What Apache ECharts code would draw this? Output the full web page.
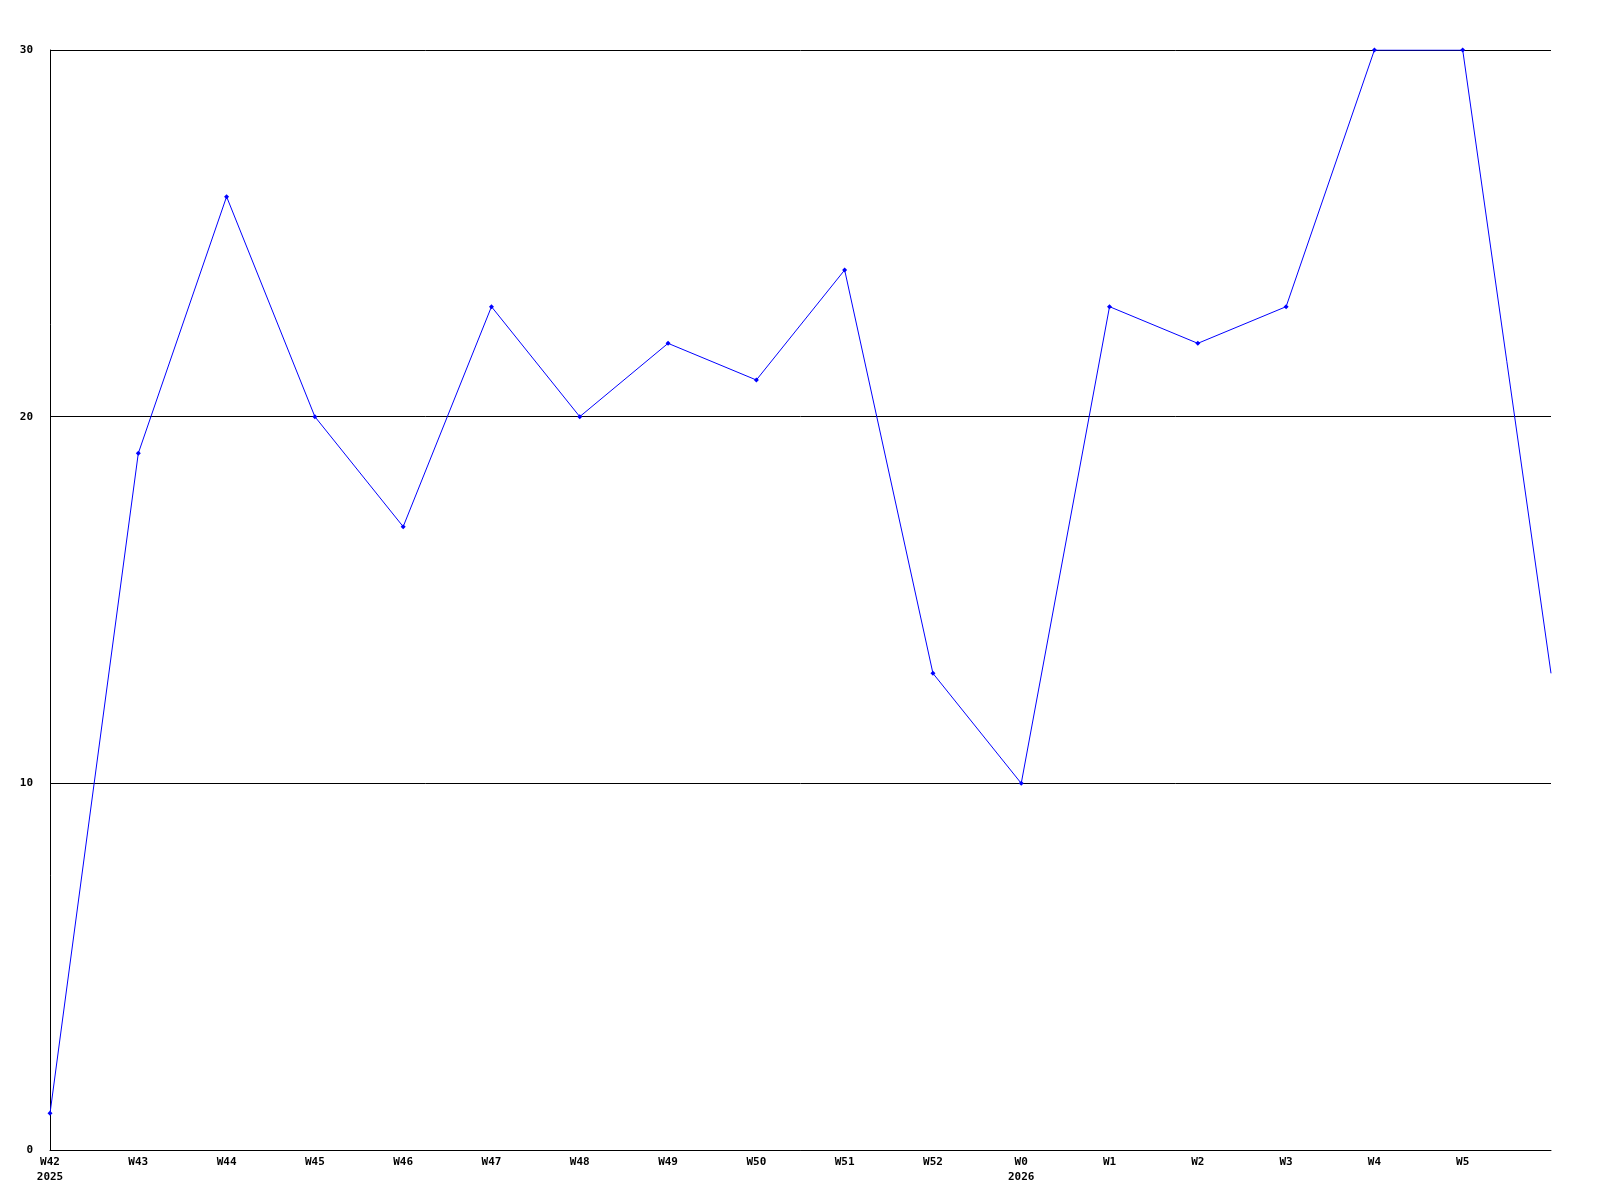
<!DOCTYPE html>
<html>
<head>
<meta charset="utf-8">
<script src="https://cdn.jsdelivr.net/npm/echarts@6/dist/echarts.min.js"></script>
<style>
html,body{margin:0;padding:0;background:#fff;}
#chart{width:1600px;height:1200px;}
</style>
</head>
<body>
<div id="chart"></div>
<script>
const categories = ['W42','W43','W44','W45','W46','W47','W48','W49','W50','W51','W52','W0','W1','W2','W3','W4','W5','W6'];
const tickLabels = ['W42\n2025','W43','W44','W45','W46','W47','W48','W49','W50','W51','W52','W0\n2026','W1','W2','W3','W4','W5',''];
const values = [1,19,26,20,17,23,20,22,21,24,13,10,23,22,23,30,30,13];
const yTicks = [0,10,20,30];

const seriesData = values.map(function(v, i){
  return i === values.length - 1 ? {value:v, symbol:'none'} : v;
});

const chart = echarts.init(document.getElementById('chart'), null, {renderer:'canvas'});
chart.setOption({
  animation:false,
  backgroundColor:'#ffffff',
  grid:{left:50, top:50, right:49, bottom:50, containLabel:false},
  xAxis:{
    type:'category',
    data:categories,
    boundaryGap:false,
    axisLine:{show:true, lineStyle:{color:'#000', width:1}},
    axisTick:{show:false},
    splitLine:{show:false},
    axisLabel:{
      interval:0,
      margin:5,
      fontFamily:'DejaVu Sans Mono',
      fontWeight:'bold',
      fontSize:11,
      lineHeight:15,
      color:'#000',
      formatter:function(v, i){ return tickLabels[i]; }
    }
  },
  yAxis:{
    type:'value',
    min:0, max:30, interval:10,
    axisLine:{show:true, lineStyle:{color:'#000', width:1}},
    axisTick:{show:false},
    splitLine:{show:true, lineStyle:{color:'#000', width:1}},
    axisLabel:{
      margin:17,
      fontFamily:'DejaVu Sans Mono',
      fontWeight:'bold',
      fontSize:11,
      color:'#000',
      formatter:function(v){ return yTicks.indexOf(v) >= 0 ? String(v) : ''; }
    }
  },
  series:[{
    type:'line',
    data:seriesData,
    symbol:'diamond',
    symbolSize:5,
    showAllSymbol:true,
    itemStyle:{color:'#0000ff'},
    lineStyle:{color:'#0000ff', width:1},
    z:3
  }]
});
</script>
</body>
</html>
